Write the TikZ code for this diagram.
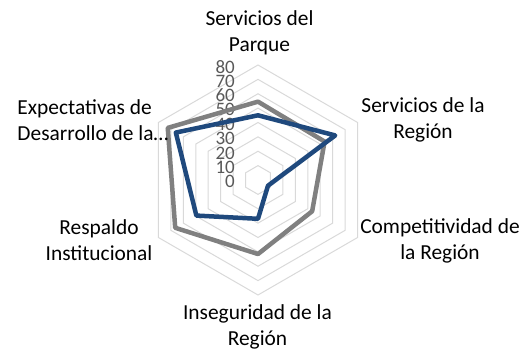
\documentclass[tikz,border=0pt]{standalone}
\usepackage{fontspec}
\setmainfont{Carlito}
\definecolor{gridgray}{HTML}{D9D9D9}
\definecolor{seriesgray}{HTML}{808080}
\definecolor{seriesblue}{HTML}{1F497D}
\definecolor{ticktext}{HTML}{595959}
\newcommand{\rv}{1.4375}
\tikzset{
    gridline/.style = {draw = gridgray, line width = 1pt},
    series/.style = {line width = 4.5pt, line join = round},
    ticklabel/.style = {anchor = east, inner sep = 0pt, text = ticktext, font = \fontsize{19}{19}\selectfont},
    catlabel/.style = {inner sep = 0pt, align = center, font = \fontsize{21.4}{26}\selectfont}
}
\begin{document}
\begin{tikzpicture}[x = 1pt, y = 1pt]
    \useasboundingbox (-258,-172) rectangle (274,180);

    \draw [gridline] (90:{10*\rv}) -- (30:{10*\rv}) -- (-30:{10*\rv}) -- (-90:{10*\rv}) -- (-150:{10*\rv}) -- (150:{10*\rv}) -- cycle;
    \draw [gridline] (90:{20*\rv}) -- (30:{20*\rv}) -- (-30:{20*\rv}) -- (-90:{20*\rv}) -- (-150:{20*\rv}) -- (150:{20*\rv}) -- cycle;
    \draw [gridline] (90:{30*\rv}) -- (30:{30*\rv}) -- (-30:{30*\rv}) -- (-90:{30*\rv}) -- (-150:{30*\rv}) -- (150:{30*\rv}) -- cycle;
    \draw [gridline] (90:{40*\rv}) -- (30:{40*\rv}) -- (-30:{40*\rv}) -- (-90:{40*\rv}) -- (-150:{40*\rv}) -- (150:{40*\rv}) -- cycle;
    \draw [gridline] (90:{50*\rv}) -- (30:{50*\rv}) -- (-30:{50*\rv}) -- (-90:{50*\rv}) -- (-150:{50*\rv}) -- (150:{50*\rv}) -- cycle;
    \draw [gridline] (90:{60*\rv}) -- (30:{60*\rv}) -- (-30:{60*\rv}) -- (-90:{60*\rv}) -- (-150:{60*\rv}) -- (150:{60*\rv}) -- cycle;
    \draw [gridline] (90:{70*\rv}) -- (30:{70*\rv}) -- (-30:{70*\rv}) -- (-90:{70*\rv}) -- (-150:{70*\rv}) -- (150:{70*\rv}) -- cycle;
    \draw [gridline] (90:{80*\rv}) -- (30:{80*\rv}) -- (-30:{80*\rv}) -- (-90:{80*\rv}) -- (-150:{80*\rv}) -- (150:{80*\rv}) -- cycle;

    \node [ticklabel] (t0) at (-23,{0*\rv-1.7}) {0};
    \node [ticklabel] (t10) at (-23,{10*\rv-1.7}) {10};
    \node [ticklabel] (t20) at (-23,{20*\rv-1.7}) {20};
    \node [ticklabel] (t30) at (-23,{30*\rv-1.7}) {30};
    \node [ticklabel] (t40) at (-23,{40*\rv-1.7}) {40};
    \node [ticklabel] (t50) at (-23,{50*\rv-1.7}) {50};
    \node [ticklabel] (t60) at (-23,{60*\rv-1.7}) {60};
    \node [ticklabel] (t70) at (-23,{70*\rv-1.7}) {70};
    \node [ticklabel] (t80) at (-23,{80*\rv-1.7}) {80};

    \coordinate (g1) at (90:{54.5*\rv});
    \coordinate (g2) at (30:{53.5*\rv});
    \coordinate (g3) at (-30:{43.5*\rv});
    \coordinate (g4) at (-90:{51.5*\rv});
    \coordinate (g5) at (-150:{66.5*\rv});
    \coordinate (g6) at (150:{72.5*\rv});
    \coordinate (b1) at (90:{45*\rv});
    \coordinate (b2) at (30:{62*\rv});
    \coordinate (b3) at (-30:{8*\rv});
    \coordinate (b4) at (-90:{27*\rv});
    \coordinate (b5) at (-150:{49.5*\rv});
    \coordinate (b6) at (150:{66*\rv});

    \draw [series, seriesgray] (g1) -- (g2) -- (g3) -- (g4) -- (g5) -- (g6) -- cycle;
    \draw [series, seriesblue] (b1) -- (b2) -- (b3) -- (b4) -- (b5) -- (b6) -- cycle;

    \node [catlabel] (P) at (1.5,147.5) {Servicios del\\Parque};
    \node [catlabel] (R) at (165,60.2) {Servicios de la\\Región};
    \node [catlabel] (C) at (182,-60.5) {Competitividad de\\la Región};
    \node [catlabel] (I) at (-0.5,-146.7) {Inseguridad de la\\Región};
    \node [catlabel] (S) at (-159,-60.5) {Respaldo\\Institucional};
    \node [catlabel, anchor = west, align = left] (E) at (-240.7,60.2) {Expectativas de\\Desarrollo de la…};
\end{tikzpicture}
\end{document}
